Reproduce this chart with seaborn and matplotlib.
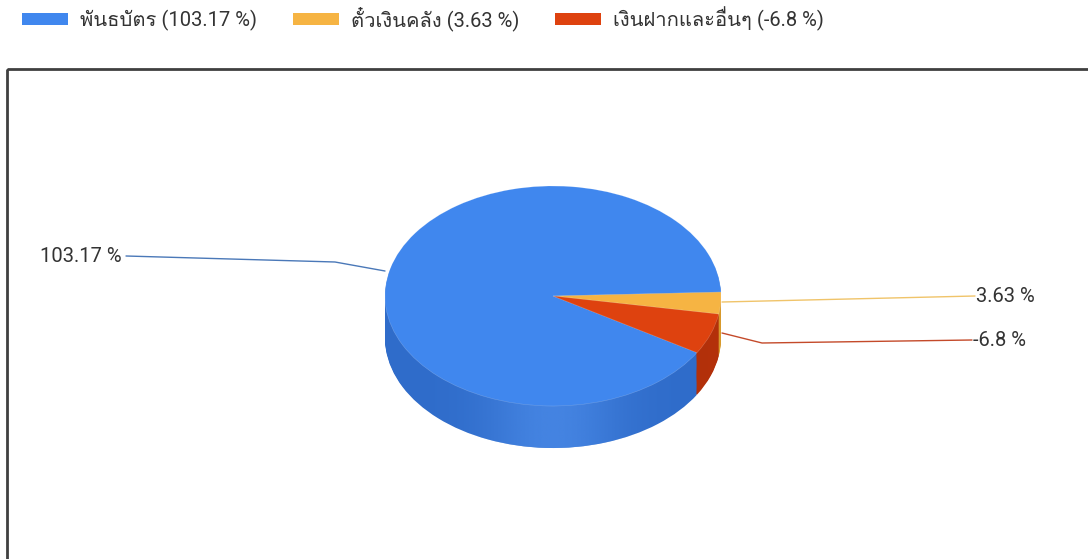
import numpy as np
import matplotlib
matplotlib.use("Agg")
import matplotlib.pyplot as plt
import seaborn as sns
from matplotlib import font_manager
from matplotlib.patches import Patch, Rectangle, PathPatch
from matplotlib.path import Path
from matplotlib.colors import to_rgb

# ---- data ----
categories = ["พันธบัตร", "ตั๋วเงินคลัง", "เงินฝากและอื่นๆ"]
values = [103.17, 3.63, -6.8]
value_labels = ["103.17 %", "3.63 %", "-6.8 %"]
legend_labels = [f"{c} ({v})" for c, v in zip(categories, value_labels)]

top_colors = ["#4087ee", "#f6b443", "#de420f"]
side_colors = ["#2f6cca", "#d89a2c", "#b3300a"]

sns.set_theme(style="white")


def find_thai_font():
    try:
        from fontTools.ttLib import TTFont
    except Exception:
        return None
    cands = []
    for f in font_manager.fontManager.ttflist:
        try:
            tt = TTFont(f.fname, fontNumber=0, lazy=True)
            cmap = tt.getBestCmap()
            if cmap and 0x0E1E in cmap:
                cands.append(f)
        except Exception:
            pass
    if not cands:
        return None
    cands.sort(key=lambda f: (f.weight not in (400, "normal", "regular"), f.style != "normal"))
    return cands[0].name


thai = find_thai_font()
fams = ["Roboto"] + ([thai] if thai else []) + ["DejaVu Sans"]
plt.rcParams["font.family"] = fams

W, H = 1088, 559
fig = plt.figure(figsize=(W / 100, H / 100), dpi=100)
fig.patch.set_facecolor("white")

# pie geometry (pixels)
cx, cy, rx, ry, depth = 553, 296, 168, 110, 42
d = depth / ry
ax = fig.add_axes([(cx - 1.25 * rx) / W, (H - (cy + (1.25 + d) * ry)) / H,
                   2.5 * rx / W, (2.5 + d) * ry / H])
abs_vals = [abs(v) for v in values]
start = 329
for off in np.linspace(d, 0, 40, endpoint=False):
    ax.pie(abs_vals, colors=side_colors, startangle=start, counterclock=False,
           center=(0, -off), radius=1, wedgeprops=dict(linewidth=0))

# light sheen on the front of the side wall
t = np.linspace(np.pi, 2 * np.pi, 200)
verts = np.concatenate([np.c_[np.cos(t), np.sin(t)],
                        np.c_[np.cos(t[::-1]), np.sin(t[::-1]) - d]])
band = PathPatch(Path(verts), facecolor="none", edgecolor="none")
ax.add_patch(band)
xs = np.linspace(-1, 1, 400)
grad = np.zeros((2, xs.size, 4))
grad[..., :3] = to_rgb("#4a8ae8")
grad[..., 3] = 0.8 * np.exp(-(xs / 0.4) ** 2)
im = ax.imshow(grad, extent=(-1, 1, -1 - d, 0), aspect="auto", zorder=1.5,
               interpolation="bilinear")
im.set_clip_path(band)

wedges, _ = ax.pie(abs_vals, colors=top_colors, startangle=start, counterclock=False,
                   center=(0, 0), radius=1,
                   wedgeprops=dict(linewidth=0.4, edgecolor=(1, 1, 1, 0.25)))
for w in wedges:
    w.set_zorder(3)
ax.set_xlim(-1.25, 1.25)
ax.set_ylim(-1.25 - d, 1.25)
ax.set_aspect("auto")
ax.axis("off")

# overlay in pixel coordinates
ov = fig.add_axes([0, 0, 1, 1])
ov.set_xlim(0, W)
ov.set_ylim(H, 0)
ov.axis("off")
ov.add_patch(Rectangle((7, 69), W + 20, H + 20, fill=False, edgecolor="#404040", lw=2))

ov.plot([126, 335, 385], [256, 262, 271], color="#4a78b8", lw=1)
ov.plot([722, 975], [302, 296], color="#f0c46a", lw=1)
ov.plot([722, 762, 972], [333, 343, 340], color="#c44a2a", lw=1)
fs = 14.5
ov.text(122, 256, value_labels[0], ha="right", va="center", fontsize=fs, color="#333333")
ov.text(976, 297, value_labels[1], ha="left", va="center", fontsize=fs, color="#333333")
ov.text(973, 341, value_labels[2], ha="left", va="center", fontsize=fs, color="#333333")

handles = [Patch(facecolor=c, edgecolor="none") for c in top_colors]
fpx = fs * 100 / 72
fig.legend(handles, legend_labels, loc="upper left", bbox_to_anchor=(22 / W, 1 - 6 / H),
           ncol=3, frameon=False, fontsize=fs, borderpad=0, borderaxespad=0,
           handlelength=46 / fpx, handleheight=11 / fpx, handletextpad=12 / fpx,
           columnspacing=36 / fpx, labelcolor="#333333")

fig.savefig("out.png", dpi=100, facecolor="white")
